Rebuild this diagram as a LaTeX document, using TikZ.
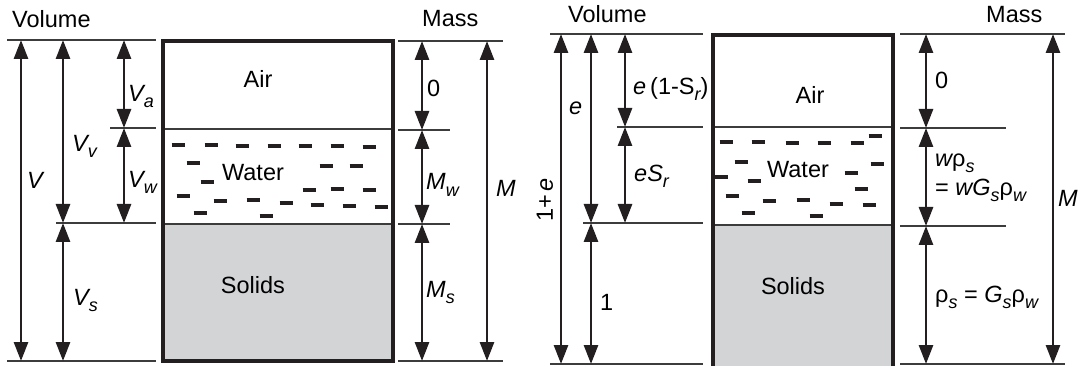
\documentclass[tikz,border=0pt]{standalone}
\usepackage{fontspec}
\setmainfont{Liberation Sans}
\usepackage{tikz}
\usetikzlibrary{arrows.meta,positioning,calc}
\definecolor{linegray}{RGB}{60,60,60}
\definecolor{boxblack}{RGB}{35,31,32}
\definecolor{solidgray}{RGB}{211,212,214}
\newcommand\lsub[1]{\raisebox{-6pt}{\fontsize{18}{18}\selectfont\itshape #1}}
\tikzset{
    refline/.style={linegray, line width=1.6pt},
    dimarrow/.style={boxblack, line width=2.8pt, {Triangle[length=19pt,width=14pt]}-{Triangle[length=19pt,width=14pt]}},
    phasebox/.style={boxblack, line width=3.4pt},
    phaseline/.style={linegray, line width=1.6pt},
    wdash/.style={boxblack, line width=4pt},
    txt/.style={inner sep=0pt, anchor=base west, font=\fontsize{23.5}{28}\selectfont},
    phase/.style={inner sep=0pt, font=\fontsize{23.5}{28}\selectfont},
}

\begin{document}
\begin{tikzpicture}[x=1pt,y=-1pt]
    \useasboundingbox (0,0) rectangle (1079,366);
    \clip (0,0) rectangle (1079,366);

    % left: phase box
    \fill[solidgray] (163,224) rectangle (393,361);
    \draw[phaseline] (163,129) -- (393,129);
    \draw[phaseline] (163,224) -- (393,224);
    \draw[phasebox] (163,41) rectangle (393,361);
    \node[phase] (airL) at (258,79) {Air};
    \node[phase] (waterL) at (253,173) {Water};
    \node[phase] (solidsL) at (253,285) {Solids};
    \foreach \x/\y in {178/145, 211/145, 242/146, 274/146, 305/146, 337/146, 369/147,
        193/163, 207/182, 326/166, 356/166, 309/190, 337/189, 369/190,
        183/196, 220/201, 253/200, 286/203, 317/205, 349/206, 381/207, 200/213, 266/216} {
        \draw[wdash] (\x,\y) ++(-6.5,0) -- ++(13,0);
    }

    % left: volume side
    \draw[refline] (7,40) -- (156,40);
    \draw[refline] (110,128) -- (156,128);
    \draw[refline] (56,223) -- (156,223);
    \draw[refline] (7,361) -- (156,361);
    \foreach \nm/\x/\ya/\yb in {V/21/40/361, Vv/63/40/223, Va/124/40/128, Vw/124/128/223, Vs/63/223/361} {
        \coordinate (\nm-t) at (\x,\ya);
        \coordinate (\nm-b) at (\x,\yb);
        \draw[dimarrow] (\nm-t) -- (\nm-b);
    }
    \node[txt] (volL) at (12,28) {Volume};
    \node[txt] (labV) at (27,189) {\itshape V};
    \node[txt] (labVv) at (72,152) {\itshape V\lsub{v}};
    \node[txt] (labVa) at (128,102) {\itshape V\lsub{a}};
    \node[txt] (labVw) at (128,188) {\itshape V\lsub{w}};
    \node[txt] (labVs) at (73,305) {\itshape V\lsub{s}};

    % left: mass side
    \draw[refline] (398,41) -- (503,41);
    \draw[refline] (398,130) -- (450,130);
    \draw[refline] (398,224) -- (450,224);
    \draw[refline] (398,361) -- (503,361);
    \foreach \nm/\x/\ya/\yb in {Ma/422/41/130, Mw/422/130/224, Ms/422/224/361, M/487/41/361} {
        \coordinate (\nm-t) at (\x,\ya);
        \coordinate (\nm-b) at (\x,\yb);
        \draw[dimarrow] (\nm-t) -- (\nm-b);
    }
    \node[txt] (massL) at (422,27) {Mass};
    \node[txt] (labMa) at (427,97) {0};
    \node[txt] (labMw) at (426,190) {\itshape M\lsub{w}};
    \node[txt] (labMs) at (426,297) {\itshape M\lsub{s}};
    \node[txt] (labM) at (496,197) {\itshape M};

    % right: phase box
    \fill[solidgray] (713,225) rectangle (893,370);
    \draw[phaseline] (713,127) -- (893,127);
    \draw[phaseline] (713,225) -- (893,225);
    \draw[phasebox] (713,35) rectangle (893,370);
    \node[phase] (airR) at (810,95) {Air};
    \node[phase] (waterR) at (798,170) {Water};
    \node[phase] (solidsR) at (793,286) {Solids};
    \foreach \x/\y in {726/142, 758/142, 792/143, 824/143, 857/143, 875/136,
        741/162, 754/181, 721/177, 851/173, 877/164, 861/189,
        732/196, 769/201, 803/200, 836/204, 869/205, 748/213, 816/216} {
        \draw[wdash] (\x,\y) ++(-6.5,0) -- ++(13,0);
    }

    % right: volume side
    \draw[refline] (550,34) -- (703,34);
    \draw[refline] (617,127) -- (703,127);
    \draw[refline] (583,223) -- (703,223);
    \draw[refline] (550,364) -- (703,364);
    \foreach \nm/\x/\ya/\yb in {ope/561/34/364, e/591/34/223, eair/625/34/127, ew/625/127/223, one/591/223/364} {
        \coordinate (\nm-t) at (\x,\ya);
        \coordinate (\nm-b) at (\x,\yb);
        \draw[dimarrow] (\nm-t) -- (\nm-b);
    }
    \node[txt] (volR) at (568,23) {Volume};
    \node[phase, rotate=90] (labOpe) at (545,200) {1+\,\itshape e};
    \node[txt] (labE) at (569,115) {\itshape e};
    \node[txt] (labEair) at (633,95) {\itshape e\upshape\,(1-S\lsub{r})};
    \node[txt] (labEw) at (634,182) {\itshape eS\lsub{r}};
    \node[txt] (labOne) at (600,310) {1};

    % right: mass side
    \draw[refline] (900,34) -- (1065,34);
    \draw[refline] (900,128) -- (1006,128);
    \draw[refline] (900,226) -- (1006,226);
    \draw[refline] (900,364) -- (1065,364);
    \foreach \nm/\x/\ya/\yb in {mz/926/34/128, mw/926/128/226, ms/926/226/364, mt/1053/34/364} {
        \coordinate (\nm-t) at (\x,\ya);
        \coordinate (\nm-b) at (\x,\yb);
        \draw[dimarrow] (\nm-t) -- (\nm-b);
    }
    \node[txt] (massR) at (986,23) {Mass};
    \node[txt] (labMz) at (935,89) {0};
    \node[txt] (labMwa) at (935,167) {\itshape w\upshape ρ\lsub{s}};
    \node[txt] (labMwb) at (935,196) {= \itshape wG\lsub{s}\upshape ρ\lsub{w}};
    \node[txt] (labMsr) at (935,302) {ρ\lsub{s} = \itshape G\lsub{s}\upshape ρ\lsub{w}};
    \node[txt] (labMt) at (1058,207) {\itshape M};
\end{tikzpicture}
\end{document}
